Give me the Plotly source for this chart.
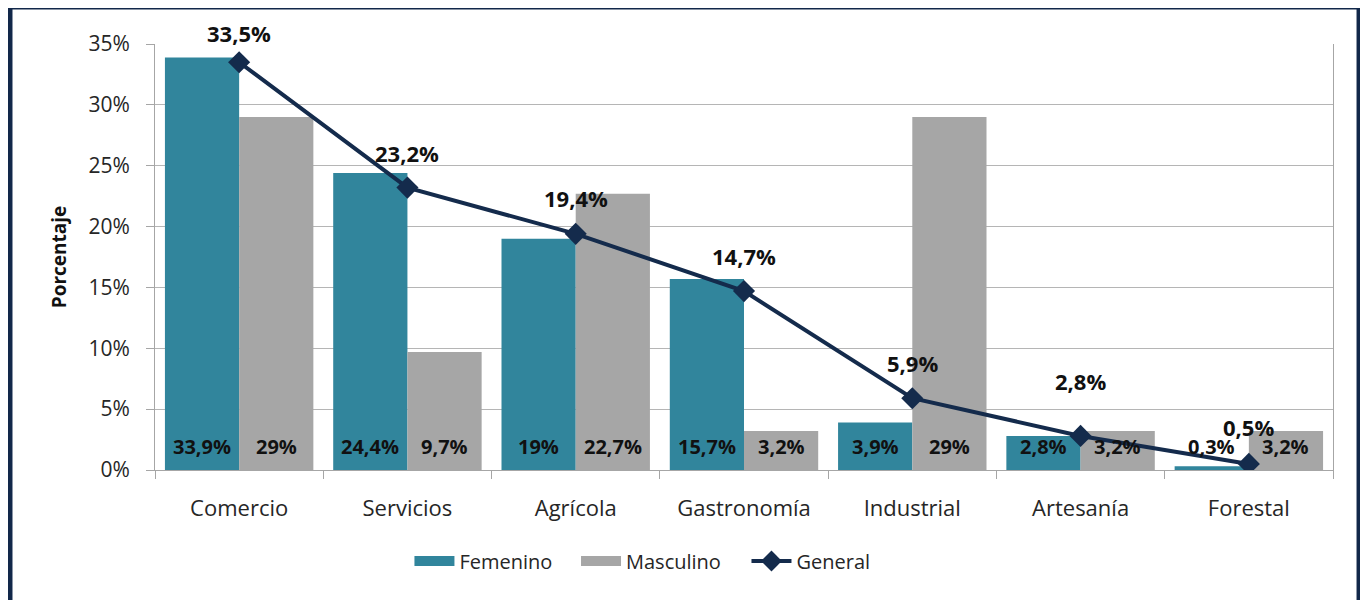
import plotly.graph_objects as go

categorias = ["Comercio", "Servicios", "Agrícola", "Gastronomía", "Industrial", "Artesanía", "Forestal"]
femenino = [33.9, 24.4, 19.0, 15.7, 3.9, 2.8, 0.3]
masculino = [29.0, 9.7, 22.7, 3.2, 29.0, 3.2, 3.2]
general = [33.5, 23.2, 19.4, 14.7, 5.9, 2.8, 0.5]

def fmt(v):
    s = ("%.1f" % v).rstrip("0").rstrip(".")
    return s.replace(".", ",") + "%"

FONT = "Open Sans"
C_FEM = "#31859C"
C_MAS = "#A6A6A6"
C_GEN = "#142B4C"

fig = go.Figure()
fig.add_trace(go.Bar(name="Femenino", x=categorias, y=femenino, marker_color=C_FEM, marker_line_width=0,
                     showlegend=False))
fig.add_trace(go.Bar(name="Masculino", x=categorias, y=masculino, marker_color=C_MAS, marker_line_width=0,
                     showlegend=False))
fig.add_trace(go.Scatter(name="General", x=categorias, y=general, mode="lines+markers",
                         line=dict(color=C_GEN, width=4),
                         marker=dict(symbol="diamond", size=17, color=C_GEN), legend="legend3"))
# legend proxies (wide swatches like the original)
fig.add_trace(go.Scatter(name="Femenino", x=[None], y=[None], mode="lines",
                         line=dict(color=C_FEM, width=15), legend="legend"))
fig.add_trace(go.Scatter(name="Masculino", x=[None], y=[None], mode="lines",
                         line=dict(color=C_MAS, width=15), legend="legend2"))

annotations = []
bar_font = dict(family=FONT, size=20, color="#111111")
for i, c in enumerate(categorias):
    annotations.append(dict(x=c, y=0, xref="x", yref="y", text="<b>%s</b>" % fmt(femenino[i]),
                            showarrow=False, xshift=-37, yshift=24, font=bar_font))
    annotations.append(dict(x=c, y=0, xref="x", yref="y", text="<b>%s</b>" % fmt(masculino[i]),
                            showarrow=False, xshift=37, yshift=24, font=bar_font))
gen_shift = [29, 35, 36, 35, 35, 55, 37]
for i, c in enumerate(categorias):
    annotations.append(dict(x=c, y=general[i], xref="x", yref="y", text="<b>%s</b>" % fmt(general[i]),
                            showarrow=False, yshift=gen_shift[i], font=dict(family=FONT, size=22, color="#111111")))

leg_common = dict(orientation="h", xanchor="left", y=-0.2136, yanchor="middle",
                  font=dict(family=FONT, size=20, color="#262626"), itemwidth=40,
                  bgcolor="rgba(0,0,0,0)")

fig.update_layout(
    width=1360, height=592,
    margin=dict(l=147, r=35, t=36, b=130),
    paper_bgcolor="white", plot_bgcolor="white",
    barmode="group", bargap=0.118, bargroupgap=0,
    font=dict(family=FONT, size=21, color="#262626"),
    showlegend=True,
    legend=dict(x=0.2160, **leg_common),
    legend2=dict(x=0.3574, **leg_common),
    legend3=dict(x=0.5021, **leg_common),
    annotations=annotations,
    shapes=[dict(type="rect", xref="paper", yref="paper", x0=-0.1231, x1=1.0221, y0=-0.35, y1=1.0869,
                 line=dict(color="#12284A", width=5), fillcolor="rgba(0,0,0,0)", layer="above")],
)
fig.update_yaxes(range=[0, 35], dtick=5, ticksuffix="%", showgrid=True, gridcolor="#B5B5B5", gridwidth=1,
                 showline=True, linecolor="#A6A6A6", linewidth=1, mirror=True,
                 ticks="outside", ticklen=8, tickcolor="#A6A6A6", zeroline=False, ticklabelstandoff=12,
                 title=dict(text="<b>Porcentaje</b>", font=dict(family=FONT, size=19, color="#111111"), standoff=16),
                 tickfont=dict(family=FONT, size=21, color="#262626"))
fig.update_xaxes(showline=True, linecolor="#A6A6A6", linewidth=1, ticks="outside", tickson="boundaries",
                 ticklen=8, tickcolor="#A6A6A6", ticklabelstandoff=19,
                 tickfont=dict(family=FONT, size=22, color="#262626"))

fig.write_html("out.html")
